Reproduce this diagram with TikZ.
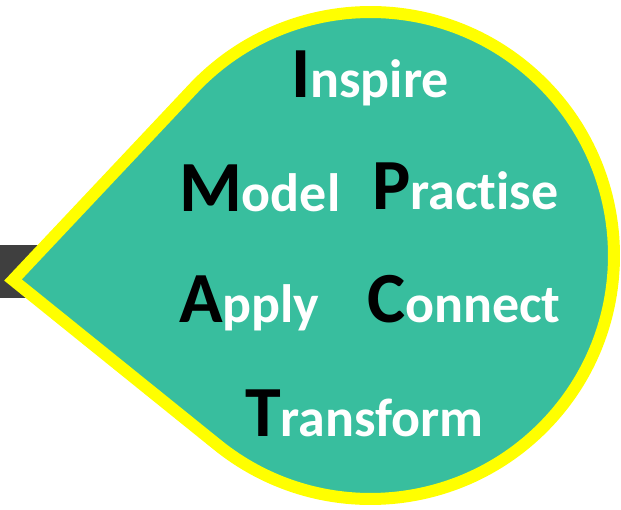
\documentclass[tikz,border=0pt]{standalone}
\usepackage{fontspec}
\usetikzlibrary{calc}
\setmainfont{Carlito}[Ligatures=NoCommon]
\definecolor{teal1}{RGB}{56,190,158}
\definecolor{ylw}{RGB}{255,255,0}
\definecolor{barc}{RGB}{63,63,63}
\newcommand{\mpword}[2]{{\bfseries\color{black}\fontsize{72}{72}\selectfont #1}{\bfseries\color{white}\fontsize{54}{54}\selectfont #2}}
\tikzset{
  word/.style={anchor=base west, inner sep=0pt, outer sep=0pt},
  drop/.style={fill=teal1, draw=ylw, line width=12pt, line join=miter},
}
\begin{document}
\begin{tikzpicture}[x=1pt,y=1pt]
\useasboundingbox (0,0) rectangle (621,509);
\fill[barc] (0,211) rectangle (60,264);
\coordinate (ctr) at (370.5,253.5);
\coordinate (tip) at (13,229);
\coordinate (up) at ($(ctr)+(136.74:243.5)$);
\draw[drop] (tip) -- (up)
  arc[start angle=136.74, end angle=-128.9, radius=243.5] -- cycle;
\node[word] (inspire) at (291,411) {\mpword{I}{nspire}};
\node[word] (model) at (179,297) {\mpword{M}{odel}};
\node[word] (practise) at (372,299) {\mpword{P}{ractise}};
\node[word] (apply) at (179,186) {\mpword{A}{pply}};
\node[word] (connect) at (367,186) {\mpword{C}{onnect}};
\node[word] (transform) at (245,73) {\mpword{T}{ransform}};
\end{tikzpicture}
\end{document}
